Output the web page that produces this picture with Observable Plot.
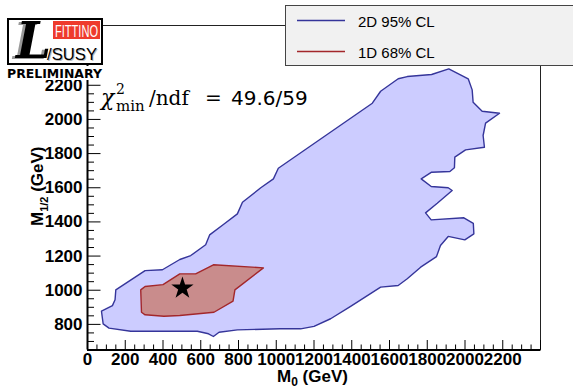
<!DOCTYPE html>
<html><head><meta charset="utf-8">
<script src="https://cdn.jsdelivr.net/npm/d3@7"></script>
<script src="https://cdn.jsdelivr.net/npm/@observablehq/plot@0.6"></script>
<style>
body{margin:0;background:#fff;}
#chart{position:relative;width:573px;height:388px;overflow:hidden;}
</style></head><body>
<div id="chart"></div>
<script>
// 2D 95% CL contour (M0, M1/2 in GeV)
const c95_m0  = [74,132,146,150,305,397,489,547,626,647,720,794,821,918,985,1011,1509,1553,1646,1694,1823,1914,2017,2038,2043,2091,2183,2109,2096,2103,2003,1946,1944,1920,1823,1768,1821,1911,1932,1853,1791,1821,1994,2044,2047,1999,1911,1870,1849,1765,1694,1646,1553,1394,1288,1200,1129,1020,794,697,667,641,582,229,114,83];
const c95_m12 = [877,910,944,1002,1115,1120,1180,1203,1266,1324,1385,1447,1515,1600,1652,1714,2095,2165,2238,2251,2263,2296,2238,2173,2101,2048,2036,1978,1906,1837,1822,1779,1717,1695,1691,1652,1607,1600,1584,1509,1453,1412,1424,1392,1330,1295,1315,1262,1197,1135,1067,1028,1018,905,833,788,774,774,768,754,729,745,760,760,778,803];
// 1D 68% CL contour
const c68_m0  = [282,305,400,489,573,667,932,781,771,670,489,405,305,286];
const c68_m12 = [1002,1022,1033,1096,1096,1149,1131,1002,936,871,852,848,856,871];
// best fit point
const best_m0 = [503];
const best_m12 = [1012];
// axes
const xDomain = [0, 2400];
const yDomain = [650, 2550];
const xTickLabels = [0,200,400,600,800,1000,1200,1400,1600,1800,2000,2200];
const yTickLabels = [800,1000,1200,1400,1600,1800,2000,2200];
const legendLabels = ["2D 95% CL", "1D 68% CL"];
const chiText = "49.6/59";

const c95 = c95_m0.map((x,i)=>({m0:x, m12:c95_m12[i]}));
const c68 = c68_m0.map((x,i)=>({m0:x, m12:c68_m12[i]}));
const best = best_m0.map((x,i)=>({m0:x, m12:best_m12[i]}));

const W=573, H=388, mL=87, mR=33, mT=25, mB=38.5;
const pw = W-mL-mR, ph = H-mT-mB;
const xMajor = d3.range(xDomain[0], xDomain[1]+1, 200);
const xMinor = d3.range(xDomain[0], xDomain[1]+1, 50).filter(v=>v%200!==0);
const yMajor = d3.range(800, yDomain[1]+1, 200);
const yMinor = d3.range(yDomain[0], yDomain[1]+1, 50).filter(v=>v%200!==0);

const BLUE_FILL="#ccccff", BLUE="#35359a", RED_FILL="#c98c8c", RED="#a3272b";
const font = "Liberation Sans, Arial, sans-serif";

const plot = Plot.plot({
  width: W, height: H,
  marginLeft: mL, marginRight: mR, marginTop: mT, marginBottom: mB,
  x: {domain: xDomain}, y: {domain: yDomain},
  style: {fontFamily: font, background: "white", color: "black"},
  marks: [
    Plot.line(c95, {x:"m0", y:"m12", curve:"linear-closed", fill:BLUE_FILL, stroke:BLUE, strokeWidth:1.4}),
    Plot.line(c68, {x:"m0", y:"m12", curve:"linear-closed", fill:RED_FILL, stroke:RED, strokeWidth:1.4}),
    Plot.dot(best, {x:"m0", y:"m12", symbol:"star", r:7, fill:"black", stroke:null}),
    Plot.frame({stroke:"#222", strokeWidth:1}),
    Plot.tickY(yMajor, {y:d=>d, insetRight: pw-13.5, stroke:"black", strokeWidth:1}),
    Plot.tickY(yMinor, {y:d=>d, insetRight: pw-7, stroke:"black", strokeWidth:1}),
    Plot.tickX(xMajor, {x:d=>d, insetTop: ph-9.5, stroke:"black", strokeWidth:1}),
    Plot.tickX(xMinor, {x:d=>d, insetTop: ph-5, stroke:"black", strokeWidth:1}),
    Plot.ruleX([xDomain[0]], {stroke:"black", strokeWidth:2}),
    Plot.ruleY([yDomain[0]], {stroke:"black", strokeWidth:2}),
    Plot.axisX({ticks:xTickLabels, tickSize:0, tickPadding:3, tickFormat:d=>String(d), fontSize:17, fontWeight:"bold", label:null}),
    Plot.axisY({ticks:yTickLabels, tickSize:0, tickPadding:5, tickFormat:d=>String(d), fontSize:17, fontWeight:"bold", label:null})
  ]
});
document.getElementById("chart").appendChild(plot);

const svg = d3.select(plot);
const ann = svg.append("g").attr("text-anchor","start");
// axis titles
const xt = ann.append("text").attr("x",277).attr("y",382).attr("font-family",font).attr("font-weight","bold").attr("font-size",17);
xt.append("tspan").text("M");
xt.append("tspan").attr("font-size",12).attr("dy",4).text("0");
xt.append("tspan").attr("dy",-4).text(" (GeV)");
const yt = ann.append("text").attr("transform","translate(43,226) rotate(-90)").attr("font-family",font).attr("font-weight","bold").attr("font-size",17);
yt.append("tspan").text("M");
yt.append("tspan").attr("font-size",11).attr("dy",5).text("1/2");
yt.append("tspan").attr("dy",-5).text(" (GeV)");

// chi2 annotation
const ser = "DejaVu Serif, serif";
const chi = ann.append("g");
chi.append("text").attr("x",101).attr("y",105).attr("font-family",ser).attr("font-style","italic").attr("font-size",22).text("χ");
chi.append("text").attr("x",116).attr("y",94).attr("font-family",ser).attr("font-size",14).text("2");
chi.append("text").attr("x",116).attr("y",111).attr("font-family",ser).attr("font-size",15).text("min");
chi.append("text").attr("x",149).attr("y",105).attr("font-family",ser).attr("font-size",20).text("/ndf");
chi.append("text").attr("x",205).attr("y",105).attr("font-family",ser).attr("font-size",20).text("=");
chi.append("text").attr("x",231).attr("y",105).attr("font-family","DejaVu Sans, sans-serif").attr("font-size",20).text(chiText);

// legend
const lg = ann.append("g");
lg.append("rect").attr("x",285.5).attr("y",5.5).attr("width",300).attr("height",60).attr("fill","#f1f1f1").attr("stroke","#444");
[BLUE, RED].forEach((c,i)=>{
  const y = 20.5 + i*31;
  lg.append("line").attr("x1",297).attr("x2",345).attr("y1",y).attr("y2",y).attr("stroke",c).attr("stroke-width",1.5);
  lg.append("text").attr("x",358).attr("y",y+6.5).attr("font-family",font).attr("font-size",15).text(legendLabels[i]);
});

// logo
const lo = ann.append("g");
lo.append("rect").attr("x",8).attr("y",19).attr("width",94).attr("height",45).attr("fill","white").attr("stroke","black").attr("stroke-width",2);
lo.append("rect").attr("x",53).attr("y",21).attr("width",47).attr("height",18).attr("fill","#ee3b2d");
lo.append("text").attr("x",55).attr("y",36.5).attr("font-family",font).attr("font-size",17).attr("fill","white").attr("textLength",43).attr("lengthAdjust","spacingAndGlyphs").text("FITTINO");
lo.append("text").attr("x",13).attr("y",59).attr("font-family",ser).attr("font-style","italic").attr("font-weight","bold").attr("font-size",50).attr("fill","#999").text("L");
lo.append("text").attr("x",16).attr("y",58).attr("font-family",ser).attr("font-style","italic").attr("font-weight","bold").attr("font-size",50).attr("fill","black").text("L");
lo.append("text").attr("x",48).attr("y",61).attr("font-family",font).attr("font-size",17).attr("fill","#bbb").attr("textLength",50).attr("lengthAdjust","spacingAndGlyphs").text("/SUSY");
lo.append("text").attr("x",47).attr("y",60).attr("font-family",font).attr("font-size",17).attr("fill","black").attr("textLength",50).attr("lengthAdjust","spacingAndGlyphs").text("/SUSY");
lo.append("rect").attr("x",6).attr("y",66).attr("width",99).attr("height",14).attr("fill","white");
lo.append("text").attr("x",7).attr("y",78).attr("font-family","DejaVu Sans, sans-serif").attr("font-weight","bold").attr("font-size",12).attr("textLength",95).attr("lengthAdjust","spacingAndGlyphs").text("PRELIMINARY");
</script>
</body></html>
